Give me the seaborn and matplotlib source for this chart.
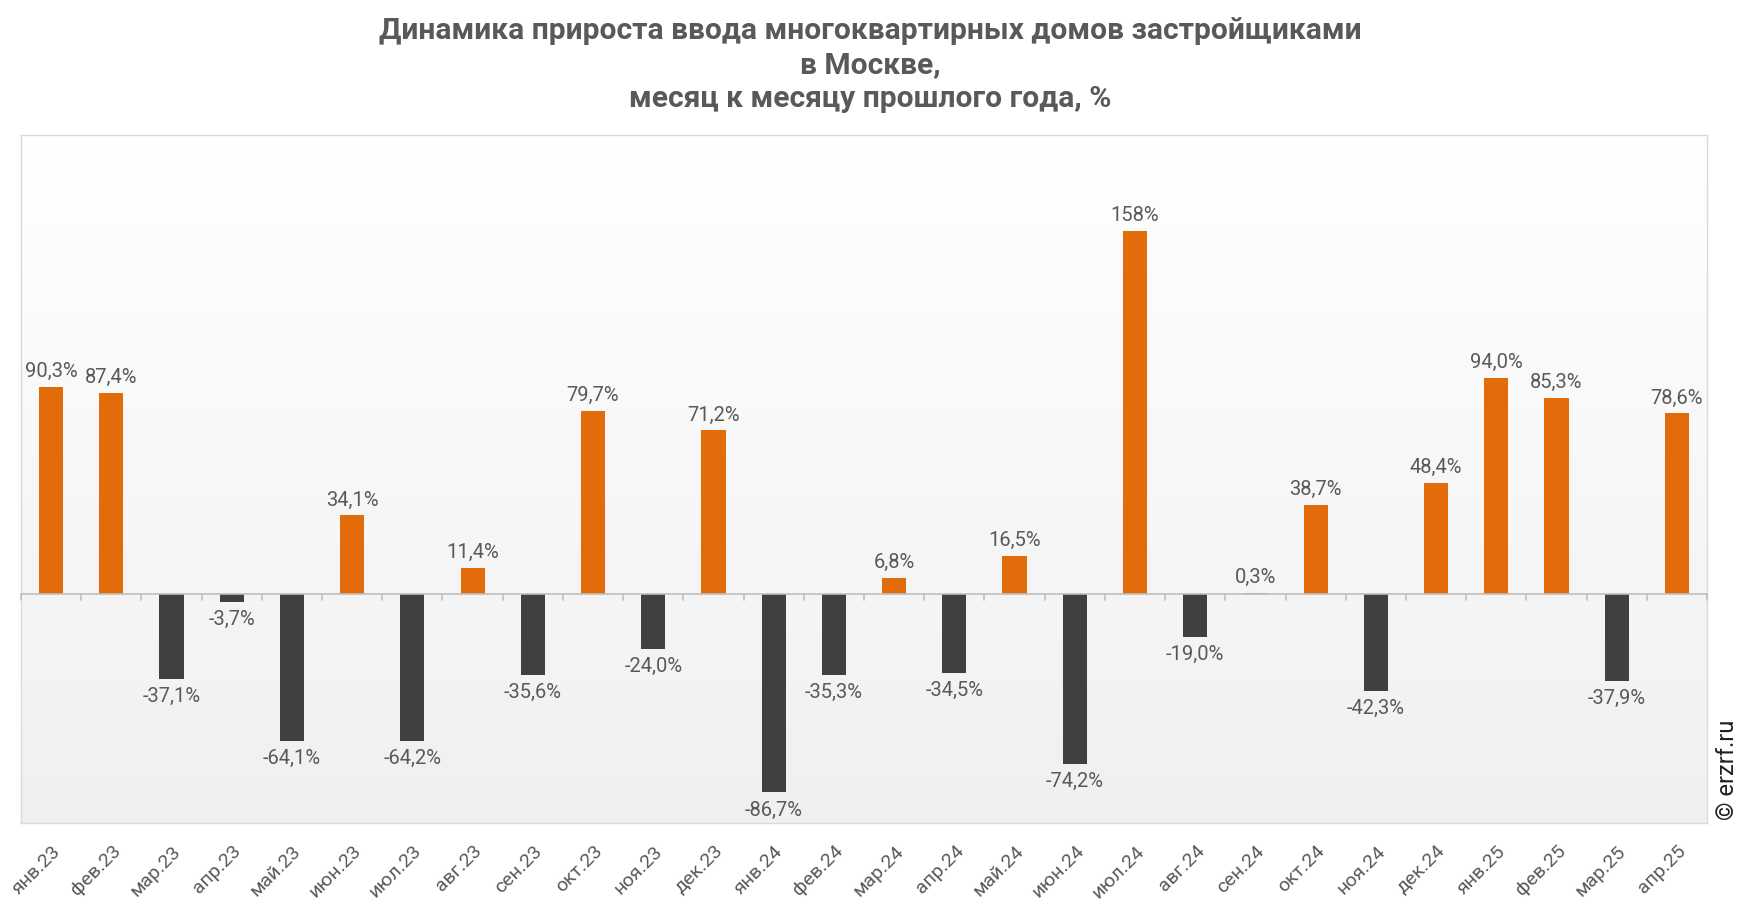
import numpy as np
import pandas as pd
import matplotlib
matplotlib.use("Agg")
import matplotlib.pyplot as plt
import seaborn as sns
from matplotlib.colors import LinearSegmentedColormap

months = ["янв.23", "фев.23", "мар.23", "апр.23", "май.23", "июн.23", "июл.23",
          "авг.23", "сен.23", "окт.23", "ноя.23", "дек.23", "янв.24", "фев.24",
          "мар.24", "апр.24", "май.24", "июн.24", "июл.24", "авг.24", "сен.24",
          "окт.24", "ноя.24", "дек.24", "янв.25", "фев.25", "мар.25", "апр.25"]
values = [90.3, 87.4, -37.1, -3.7, -64.1, 34.1, -64.2, 11.4, -35.6, 79.7, -24.0,
          71.2, -86.7, -35.3, 6.8, -34.5, 16.5, -74.2, 158.0, -19.0, 0.3, 38.7,
          -42.3, 48.4, 94.0, 85.3, -37.9, 78.6]
labels = ["90,3%", "87,4%", "-37,1%", "-3,7%", "-64,1%", "34,1%", "-64,2%", "11,4%",
          "-35,6%", "79,7%", "-24,0%", "71,2%", "-86,7%", "-35,3%", "6,8%", "-34,5%",
          "16,5%", "-74,2%", "158%", "-19,0%", "0,3%", "38,7%", "-42,3%", "48,4%",
          "94,0%", "85,3%", "-37,9%", "78,6%"]

POS = "#E36C0A"
NEG = "#404040"
TXT = "#595959"

sns.set_style("white")
plt.rcParams["font.family"] = ["Roboto", "DejaVu Sans"]

df = pd.DataFrame({"month": months, "value": values})
df["sign"] = np.where(df["value"] >= 0, "pos", "neg")

W, H = 1741, 912
fig = plt.figure(figsize=(W / 100, H / 100), dpi=100)
L, R, T, B = 21, 1707, 136, 824
ax = fig.add_axes([L / W, 1 - B / H, (R - L) / W, (B - T) / H])

# gradient background
grad = np.linspace(1, 0, 256).reshape(-1, 1)
cmap = LinearSegmentedColormap.from_list("bg", ["#F0F0F0", "#FFFFFF"])
ax.imshow(grad, extent=[0, 1, 0, 1], transform=ax.transAxes, cmap=cmap,
          aspect="auto", zorder=0, origin="upper")

sns.barplot(data=df, x="month", y="value", hue="sign",
            palette={"pos": POS, "neg": NEG}, dodge=False, width=0.4,
            saturation=1, legend=False, ax=ax, zorder=2, edgecolor="none")

ax.set_xlim(-0.5, len(months) - 0.5)
ax.set_ylim(-100, 200)
ax.set_xlabel("")
ax.set_ylabel("")
ax.set_yticks([])
ax.set_xticks(range(len(months)))
ax.set_xticklabels(months, rotation=45, ha="right", va="top",
                   rotation_mode="anchor", fontsize=14, color=TXT)
ax.tick_params(axis="x", length=0, pad=13)

for s in ax.spines.values():
    s.set_color("#D9D9D9")
    s.set_linewidth(1)

# zero line with small tick marks pointing down
ax.axhline(0, color="#BFBFBF", lw=1.2, zorder=3)
for i in range(len(months) + 1):
    ax.plot([i - 0.5, i - 0.5], [0, -2.6], color="#BFBFBF", lw=1.2, zorder=3,
            clip_on=False)

for i, (v, t) in enumerate(zip(values, labels)):
    if v >= 0:
        ax.annotate(t, (i, v), xytext=(0, 5), textcoords="offset points",
                    ha="center", va="bottom", fontsize=14.5, color=TXT)
    else:
        ax.annotate(t, (i, v), xytext=(0, -5), textcoords="offset points",
                    ha="center", va="top", fontsize=14.5, color=TXT)

fig.text(0.5, 1 - 17 / H,
         "Динамика прироста ввода многоквартирных домов застройщиками\nв Москве,\nмесяц к месяцу прошлого года, %",
         ha="center", va="top", fontsize=21.6, fontweight="bold", color=TXT,
         linespacing=1.28)

fig.text(1716 / W, 1 - 820 / H, "© erzrf.ru", rotation=90, ha="left", va="bottom",
         fontsize=17, color="#202020")

fig.savefig("out.png", dpi=100, facecolor="white")
